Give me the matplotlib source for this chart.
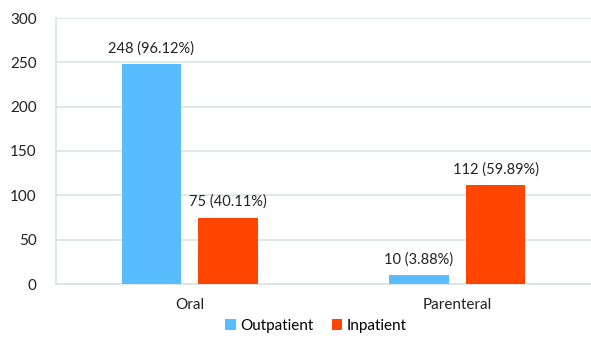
import matplotlib.pyplot as plt
import numpy as np

plt.rcParams['font.family'] = ['Lato', 'DejaVu Sans']

categories = ['Oral', 'Parenteral']
outpatient = [248, 10]
inpatient = [75, 112]
outpatient_pct = [96.12, 3.88]
inpatient_pct = [40.11, 59.89]

x = np.arange(len(categories))
width = 0.222
offset = 0.143

fig = plt.figure(figsize=(5.91, 3.39), dpi=100)
ax = fig.add_axes([56 / 591, 1 - 284 / 339, 535 / 591, 266 / 339])

b1 = ax.bar(x - offset, outpatient, width, color='#58BCFF', label='Outpatient', zorder=3)
b2 = ax.bar(x + offset, inpatient, width, color='#FF4500', label='Inpatient', zorder=3)

# value labels: count and share
for rects, vals, pcts in ((b1, outpatient, outpatient_pct), (b2, inpatient, inpatient_pct)):
    for r, v, p in zip(rects, vals, pcts):
        ax.annotate('{} ({:.2f}%)'.format(v, p),
                    xy=(r.get_x() + r.get_width() / 2, v),
                    xytext=(0, 6), textcoords='offset points',
                    ha='center', va='bottom', fontsize=10.5, color='#222222')

ax.set_xlim(-0.5, 1.5)
ax.set_ylim(0, 300)
ax.set_yticks(range(0, 301, 50))
ax.set_xticks(x)
ax.set_xticklabels(categories)
ax.tick_params(axis='both', length=0, labelsize=11, colors='#222222')
ax.tick_params(axis='y', pad=14)
ax.tick_params(axis='x', pad=10)
ax.grid(axis='y', color='#DCE1E1', linewidth=1.2, zorder=0)
for side in ('top', 'right'):
    ax.spines[side].set_visible(False)
for side in ('left', 'bottom'):
    ax.spines[side].set_color('#DCE1E1')
    ax.spines[side].set_linewidth(1.2)

fig.legend(handles=[b1, b2], loc='center', bbox_to_anchor=(316 / 591, 1 - 326 / 339),
           ncol=2, frameon=False, fontsize=11, handlelength=0.7, handleheight=0.7,
           handletextpad=0.3, columnspacing=1.2)

fig.savefig('out.png', dpi=100)
